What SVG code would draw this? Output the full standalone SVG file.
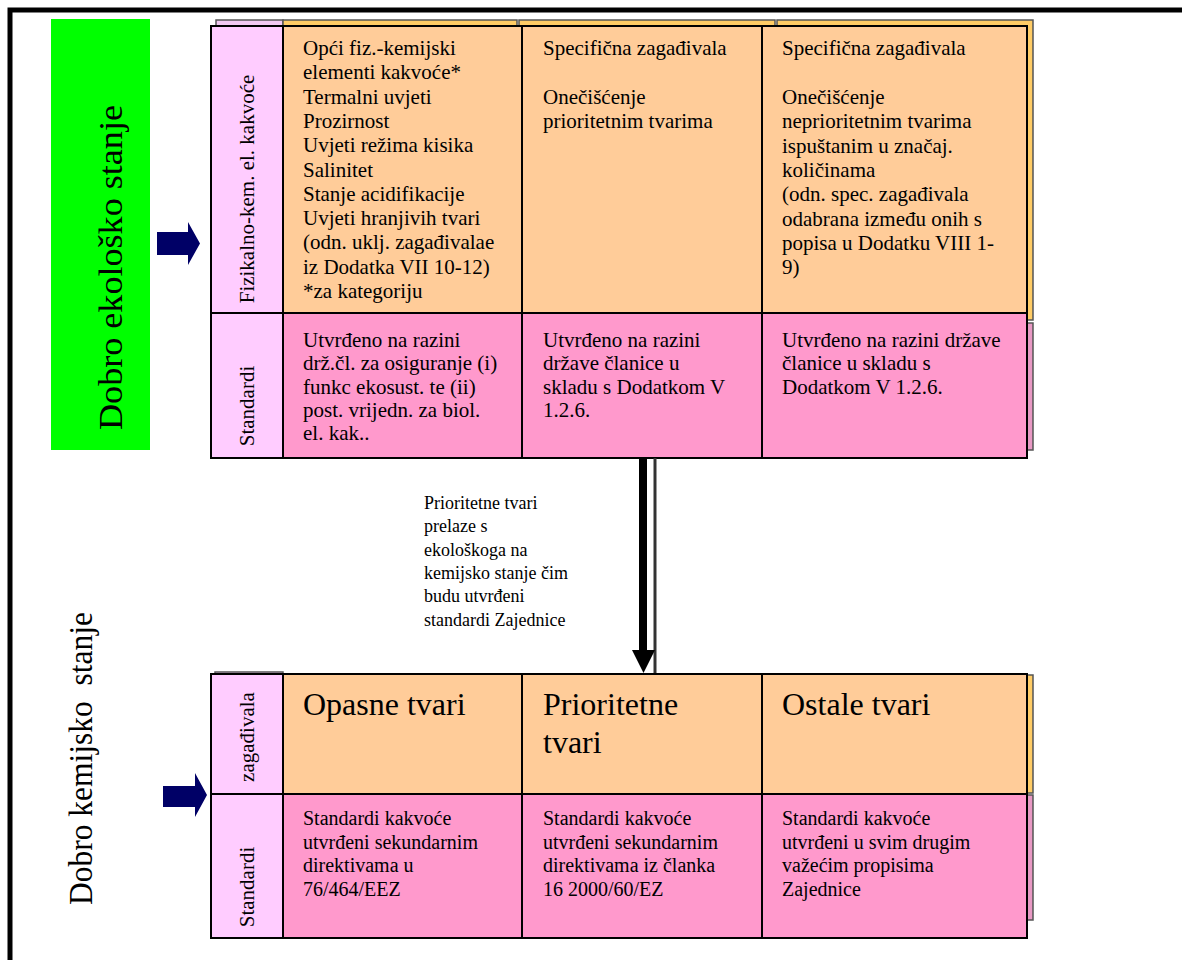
<svg xmlns="http://www.w3.org/2000/svg" width="1182" height="960" viewBox="0 0 1182 960">
  <style>
    .t { font-family: "Liberation Serif", "Times New Roman", serif; fill: #000; }
    .s21 { font-size: 21px; }
    .s20 { font-size: 20px; }
    .s18 { font-size: 18px; }
    .big { font-size: 32px; }
    .side { font-size: 34px; }
    .orange { fill: #FFCC99; stroke: #000; stroke-width: 2; }
    .pink { fill: #FF99CC; stroke: #000; stroke-width: 2; }
    .lab { fill: #FFCCFF; stroke: #000; stroke-width: 2; }
    .backO { fill: #FFCC66; stroke: #555; stroke-width: 1.5; }
    .backP { fill: #E899C4; stroke: #555; stroke-width: 1.5; }
    .backL { fill: #F2C8F2; stroke: #555; stroke-width: 1.5; }
    .blockArrow { fill: #000066; }
  </style>

  <rect width="1182" height="960" fill="#fff"/>

  <!-- outer frame (open to the right and bottom) -->
  <rect x="10" y="10" width="1200" height="1000" fill="none" stroke="#000" stroke-width="5"/>

  <!-- ecological status panel -->
  <g id="ecological-status">
    <rect x="51" y="19" width="99" height="431" fill="#00FF00"/>
    <text class="t side" transform="translate(122,430) rotate(-90)" textLength="325" lengthAdjust="spacingAndGlyphs">Dobro ekološko stanje</text>
  </g>

  <g id="ecological-arrow">
    <path class="blockArrow" d="M157,232 H188 V222 L200,243.5 L188,265 V255 H157 Z"/>
  </g>

  <!-- top table: stacked back panels -->
  <g id="ecological-table-back">
    <rect class="backL" x="216" y="20" width="67" height="280"/>
    <rect class="backO" x="283" y="20" width="234" height="290"/>
    <rect class="backO" x="519" y="20" width="256" height="290"/>
    <rect class="backO" x="777" y="20" width="256" height="300"/>
    <rect class="backP" x="777" y="323" width="256" height="127"/>
  </g>

  <!-- top table: physico-chemical elements row -->
  <g id="physchem-label">
    <rect class="lab" x="211" y="26" width="72" height="287"/>
    <text class="t s21" transform="translate(254,189) rotate(-90)" text-anchor="middle">Fizikalno-kem. el. kakvoće</text>
  </g>
  <g id="physchem-general">
    <rect class="orange" x="283" y="26" width="239" height="287"/>
    <text class="t s21" x="303" y="55">
      <tspan x="303" y="55">Opći fiz.-kemijski</tspan>
      <tspan x="303" dy="24.3">elementi kakvoće*</tspan>
      <tspan x="303" dy="24.3">Termalni uvjeti</tspan>
      <tspan x="303" dy="24.3">Prozirnost</tspan>
      <tspan x="303" dy="24.3">Uvjeti režima kisika</tspan>
      <tspan x="303" dy="24.3">Salinitet</tspan>
      <tspan x="303" dy="24.3">Stanje acidifikacije</tspan>
      <tspan x="303" dy="24.3">Uvjeti hranjivih tvari</tspan>
      <tspan x="303" dy="24.3">(odn. uklj. zagađivalae</tspan>
      <tspan x="303" dy="24.3">iz Dodatka VII 10-12)</tspan>
      <tspan x="303" dy="24.3">*za kategoriju</tspan>
    </text>
  </g>
  <g id="physchem-priority">
    <rect class="orange" x="522" y="26" width="240" height="287"/>
    <text class="t s21">
      <tspan x="543" y="55">Specifična zagađivala</tspan>
      <tspan x="543" y="104">Onečišćenje</tspan>
      <tspan x="543" dy="24.3">prioritetnim tvarima</tspan>
    </text>
  </g>
  <g id="physchem-nonpriority">
    <rect class="orange" x="762" y="26" width="265" height="287"/>
    <text class="t s21">
      <tspan x="782" y="55">Specifična zagađivala</tspan>
      <tspan x="782" y="104">Onečišćenje</tspan>
      <tspan x="782" dy="24.3">neprioritetnim tvarima</tspan>
      <tspan x="782" dy="24.3">ispuštanim u značaj.</tspan>
      <tspan x="782" dy="24.3">količinama</tspan>
      <tspan x="782" dy="24.3">(odn. spec. zagađivala</tspan>
      <tspan x="782" dy="24.3">odabrana između onih s</tspan>
      <tspan x="782" dy="24.3">popisa u Dodatku VIII 1-</tspan>
      <tspan x="782" dy="24.3">9)</tspan>
    </text>
  </g>

  <!-- top table: standards row -->
  <g id="eco-standards-label">
    <rect class="lab" x="211" y="313" width="72" height="145"/>
    <text class="t s21" transform="translate(254,406) rotate(-90)" text-anchor="middle">Standardi</text>
  </g>
  <g id="eco-standards-general">
    <rect class="pink" x="283" y="313" width="239" height="145"/>
    <text class="t s21">
      <tspan x="303" y="347">Utvrđeno na razini</tspan>
      <tspan x="303" dy="23.3">drž.čl. za osiguranje (i)</tspan>
      <tspan x="303" dy="23.3">funkc ekosust. te (ii)</tspan>
      <tspan x="303" dy="23.3">post. vrijedn. za biol.</tspan>
      <tspan x="303" dy="23.3">el. kak..</tspan>
    </text>
  </g>
  <g id="eco-standards-priority">
    <rect class="pink" x="522" y="313" width="240" height="145"/>
    <text class="t s21">
      <tspan x="543" y="347">Utvrđeno na razini</tspan>
      <tspan x="543" dy="23.3">države članice u</tspan>
      <tspan x="543" dy="23.3">skladu s Dodatkom V</tspan>
      <tspan x="543" dy="23.3">1.2.6.</tspan>
    </text>
  </g>
  <g id="eco-standards-nonpriority">
    <rect class="pink" x="762" y="313" width="265" height="145"/>
    <text class="t s21">
      <tspan x="782" y="347">Utvrđeno na razini države</tspan>
      <tspan x="782" dy="23.3">članice u skladu s</tspan>
      <tspan x="782" dy="23.3">Dodatkom V 1.2.6.</tspan>
    </text>
  </g>

  <!-- transfer connector between the two tables -->
  <g id="connectors">
    <line x1="655" y1="458" x2="655" y2="674" stroke="#333" stroke-width="3"/>
    <line x1="643" y1="458" x2="643" y2="652" stroke="#000" stroke-width="8"/>
    <path d="M632,650 H655 L643.5,673 Z" fill="#000"/>
    <text class="t s18">
      <tspan x="424" y="509">Prioritetne tvari</tspan>
      <tspan x="424" dy="23.3">prelaze s</tspan>
      <tspan x="424" dy="23.3">ekološkoga na</tspan>
      <tspan x="424" dy="23.3">kemijsko stanje čim</tspan>
      <tspan x="424" dy="23.3">budu utvrđeni</tspan>
      <tspan x="424" dy="23.3">standardi Zajednice</tspan>
    </text>
  </g>

  <!-- chemical status -->
  <g id="chemical-status">
    <text class="t side" transform="translate(92,905) rotate(-90)" textLength="293" lengthAdjust="spacingAndGlyphs" xml:space="preserve">Dobro kemijsko  stanje</text>
  </g>
  <g id="chemical-arrow">
    <path class="blockArrow" d="M163,786 H195 V773 L207,795 L195,817 V807 H163 Z"/>
  </g>

  <!-- bottom table: back panels -->
  <g id="chemical-table-back">
    <rect class="backL" x="215" y="672" width="68" height="120"/>
    <rect class="backO" x="777" y="675" width="256" height="118"/>
    <rect class="backP" x="777" y="795" width="256" height="125"/>
  </g>

  <!-- bottom table: pollutants row -->
  <g id="pollutants-label">
    <rect class="lab" x="211" y="674" width="72" height="120"/>
    <text class="t s21" transform="translate(254,737) rotate(-90)" text-anchor="middle">zagađivala</text>
  </g>
  <g id="dangerous-substances">
    <rect class="orange" x="283" y="674" width="239" height="120"/>
    <text class="t big" x="303" y="715">Opasne tvari</text>
  </g>
  <g id="priority-substances">
    <rect class="orange" x="522" y="674" width="240" height="120"/>
    <text class="t big">
      <tspan x="543" y="715">Prioritetne</tspan>
      <tspan x="543" dy="38">tvari</tspan>
    </text>
  </g>
  <g id="other-substances">
    <rect class="orange" x="762" y="674" width="265" height="120"/>
    <text class="t big" x="782" y="715">Ostale tvari</text>
  </g>

  <!-- bottom table: standards row -->
  <g id="chem-standards-label">
    <rect class="lab" x="211" y="794" width="72" height="144"/>
    <text class="t s21" transform="translate(254,887) rotate(-90)" text-anchor="middle">Standardi</text>
  </g>
  <g id="chem-standards-dangerous">
    <rect class="pink" x="283" y="794" width="239" height="144"/>
    <text class="t s20">
      <tspan x="303" y="825">Standardi kakvoće</tspan>
      <tspan x="303" dy="23.5">utvrđeni sekundarnim</tspan>
      <tspan x="303" dy="23.5">direktivama u</tspan>
      <tspan x="303" dy="23.5">76/464/EEZ</tspan>
    </text>
  </g>
  <g id="chem-standards-priority">
    <rect class="pink" x="522" y="794" width="240" height="144"/>
    <text class="t s20">
      <tspan x="543" y="825">Standardi kakvoće</tspan>
      <tspan x="543" dy="23.5">utvrđeni sekundarnim</tspan>
      <tspan x="543" dy="23.5">direktivama iz članka</tspan>
      <tspan x="543" dy="23.5">16 2000/60/EZ</tspan>
    </text>
  </g>
  <g id="chem-standards-other">
    <rect class="pink" x="762" y="794" width="265" height="144"/>
    <text class="t s20">
      <tspan x="782" y="825">Standardi kakvoće</tspan>
      <tspan x="782" dy="23.5">utvrđeni u svim drugim</tspan>
      <tspan x="782" dy="23.5">važećim propisima</tspan>
      <tspan x="782" dy="23.5">Zajednice</tspan>
    </text>
  </g>
</svg>
